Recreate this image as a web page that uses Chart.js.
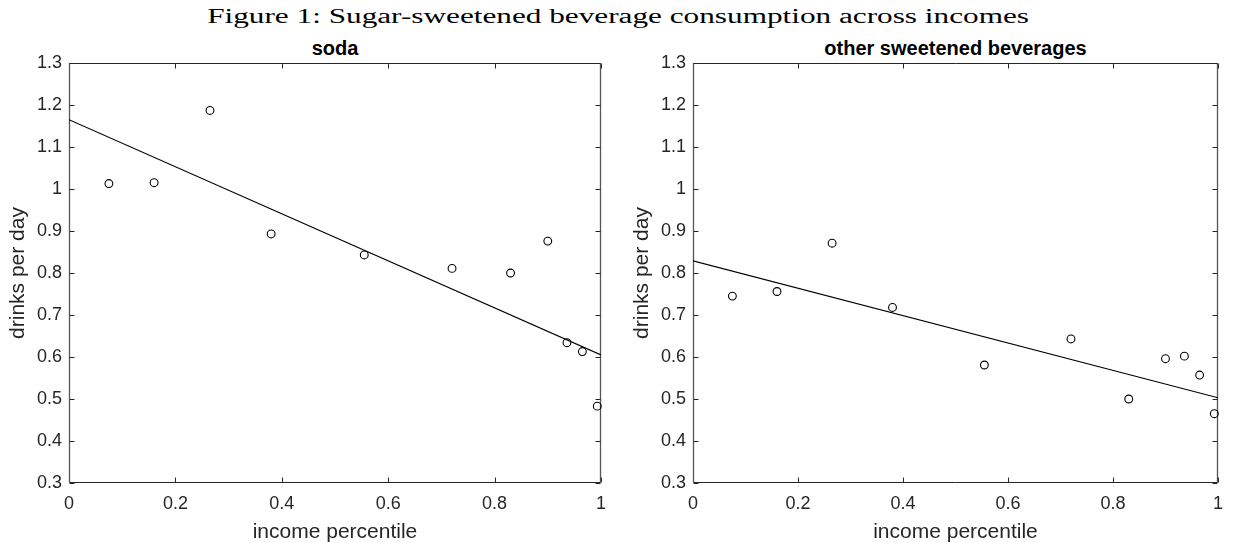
<!DOCTYPE html>
<html>
<head>
<meta charset="utf-8">
<script src="https://cdn.jsdelivr.net/npm/chart.js@4.4.1/dist/chart.umd.min.js"></script>
<style>
  html, body { margin: 0; padding: 0; background: #ffffff; }
  body { width: 1233px; height: 543px; overflow: hidden; position: relative; }
  #figTitle { position: absolute; left: 2px; top: 6px; width: 1233px; text-align: center;
    font-family: "Liberation Serif", "DejaVu Serif", serif; font-size: 20px; line-height: 20px;
    color: #000; white-space: nowrap; }
  #figTitle span { display: inline-block; transform-origin: 50% 50%; }
  .ptitle { position: absolute; top: 38px; text-align: center; font-family: "Liberation Sans", Arial, sans-serif;
    font-weight: bold; font-size: 20px; line-height: 20px; color: #000; white-space: nowrap; }
  .panel { position: absolute; top: 0; height: 543px; }
</style>
</head>
<body>
<div id="figTitle"><span id="figTitleText"></span></div>
<div class="ptitle" id="t1"></div>
<div class="ptitle" id="t2"></div>
<div class="panel" id="p1" style="left:0px;width:616px;"><canvas id="c1"></canvas></div>
<div class="panel" id="p2" style="left:624px;width:609px;"><canvas id="c2"></canvas></div>
<script>
// ---------- data ----------
const incomePct  = [0.075, 0.160, 0.265, 0.380, 0.555, 0.720, 0.830, 0.900, 0.936, 0.965, 0.993];
const soda       = [1.013, 1.015, 1.187, 0.893, 0.843, 0.811, 0.800, 0.876, 0.634, 0.613, 0.483];
const otherSweet = [0.745, 0.756, 0.871, 0.718, 0.581, 0.643, 0.500, 0.596, 0.602, 0.557, 0.465];
const fitX       = [0, 1];
const sodaFit    = [1.165, 0.605];
const otherFit   = [0.829, 0.503];
const xTicks     = [0, 0.2, 0.4, 0.6, 0.8, 1];
const yTicks     = [0.3, 0.4, 0.5, 0.6, 0.7, 0.8, 0.9, 1.0, 1.1, 1.2, 1.3];
const panelTitles = ['soda', 'other sweetened beverages'];
const xLabel = 'income percentile';
const yLabel = 'drinks per day';
const figTitle = 'Figure 1: Sugar-sweetened beverage consumption across incomes';

// ---------- titles ----------
const tt = document.getElementById('figTitleText');
tt.textContent = figTitle;
const w0 = tt.getBoundingClientRect().width;
tt.style.transform = 'scaleX(' + (822 / w0).toFixed(3) + ')';

const AX = '#262626';
const FONT = '"Liberation Sans", Arial, sans-serif';

const boxPlugin = {
  id: 'matlabBox',
  beforeDatasetsDraw(chart) {
    const {ctx, chartArea: a, scales: {x, y}} = chart;
    const L = Math.round(a.left) + 0.5, R = Math.round(a.right) - 0.5;
    const T = Math.round(a.top) + 0.5, B = Math.round(a.bottom) - 0.5;
    const len = 5;
    ctx.save();
    ctx.lineWidth = 1;
    // top / bottom edges
    ctx.strokeStyle = AX;
    ctx.beginPath();
    ctx.moveTo(L, T); ctx.lineTo(R, T);
    ctx.moveTo(L, B); ctx.lineTo(R, B);
    xTicks.forEach(v => {
      const px = Math.round(x.getPixelForValue(v)) + 0.5;
      ctx.moveTo(px, B); ctx.lineTo(px, B - len);
      ctx.moveTo(px, T); ctx.lineTo(px, T + len);
    });
    ctx.stroke();
    // left / right edges (rendered slightly lighter in the reference)
    ctx.strokeStyle = '#555555';
    ctx.lineWidth = 1.3;
    ctx.beginPath();
    ctx.moveTo(L, T); ctx.lineTo(L, B);
    ctx.moveTo(R, T); ctx.lineTo(R, B);
    ctx.stroke();
    ctx.strokeStyle = AX;
    ctx.lineWidth = 1;
    ctx.beginPath();
    yTicks.forEach(v => {
      const py = Math.round(y.getPixelForValue(v)) + 0.5;
      ctx.moveTo(L, py); ctx.lineTo(L + len, py);
      ctx.moveTo(R, py); ctx.lineTo(R - len, py);
    });
    ctx.stroke();
    ctx.restore();
  }
};

function makePanel(canvasId, titleId, title, values, fit, rightPad) {
  const pts = incomePct.map((v, i) => ({x: v, y: values[i]}));
  const line = fitX.map((v, i) => ({x: v, y: fit[i]}));
  const chart = new Chart(document.getElementById(canvasId), {
    type: 'scatter',
    data: {
      datasets: [
        { type: 'scatter', data: pts, pointStyle: 'circle', pointRadius: 3.9, pointHoverRadius: 3.9,
          pointBorderColor: '#000', pointBackgroundColor: 'rgba(0,0,0,0)', pointBorderWidth: 1.1, clip: false },
        { type: 'line', data: line, borderColor: '#000', borderWidth: 1.1, pointRadius: 0, fill: false, tension: 0 }
      ]
    },
    options: {
      responsive: true, maintainAspectRatio: false, animation: false,
      layout: { padding: { top: 63, right: rightPad, left: 0, bottom: 0 } },
      plugins: { legend: { display: false }, tooltip: { enabled: false }, title: { display: false } },
      scales: {
        x: {
          type: 'linear', min: 0, max: 1,
          afterBuildTicks: s => { s.ticks = xTicks.map(v => ({value: v})); },
          afterFit: s => { s.height = 60; },
          grid: { display: false, drawTicks: false },
          border: { display: false },
          ticks: { padding: 10, color: AX, font: { family: FONT, size: 18 }, maxRotation: 0,
                   callback: v => String(Math.round(v * 10) / 10) },
          title: { display: true, text: xLabel, color: AX, font: { family: FONT, size: 21, lineHeight: 1 },
                   padding: { top: 0, bottom: 0 } }
        },
        y: {
          type: 'linear', min: 0.3, max: 1.3,
          afterBuildTicks: s => { s.ticks = yTicks.map(v => ({value: v})); },
          afterFit: s => { s.width = 69; },
          grid: { display: false, drawTicks: false },
          border: { display: false },
          ticks: { padding: 7, color: AX, font: { family: FONT, size: 18 },
                   callback: v => String(Math.round(v * 10) / 10) },
          title: { display: true, text: yLabel, color: AX, font: { family: FONT, size: 21, lineHeight: 1 },
                   padding: { top: 8, bottom: 0 } }
        }
      }
    },
    plugins: [boxPlugin]
  });
  const panel = chart.canvas.parentNode;
  const a = chart.chartArea;
  const t = document.getElementById(titleId);
  t.textContent = title;
  const left = panel.offsetLeft + a.left;
  t.style.left = left + 'px';
  t.style.width = (a.right - a.left) + 'px';
  return chart;
}

makePanel('c1', 't1', panelTitles[0], soda, sodaFit, 13);
makePanel('c2', 't2', panelTitles[1], otherSweet, otherFit, 6);
</script>
</body>
</html>
